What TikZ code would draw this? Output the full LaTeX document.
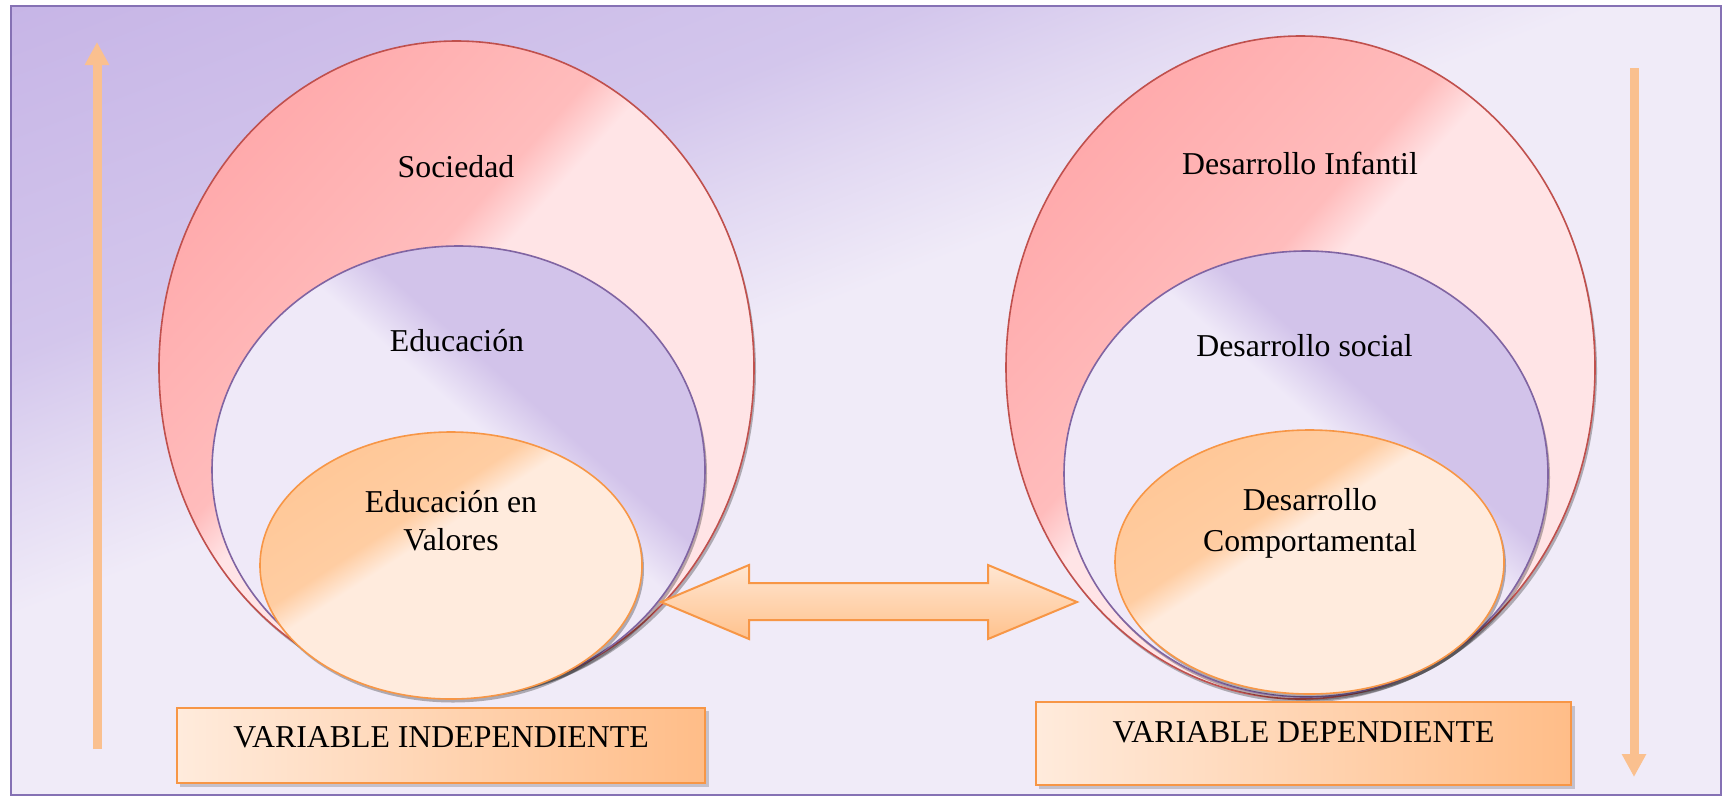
\documentclass[tikz,border=0pt]{standalone}
\usepackage{fontspec}
\setmainfont{Liberation Serif}
\usetikzlibrary{shapes.geometric,arrows.meta,calc}

\definecolor{bgD}{HTML}{C6B4E6}
\definecolor{bgD2}{HTML}{D3C6EC}
\definecolor{bgM}{HTML}{E2D9F2}
\definecolor{bgL}{HTML}{F0EBF8}
\definecolor{pkD}{HTML}{FFA8AA}
\definecolor{pkM}{HTML}{FFBCBC}
\definecolor{pkL}{HTML}{FFE4E6}
\definecolor{lvL}{HTML}{EFE9F8}
\definecolor{lvD}{HTML}{D2C3EA}
\definecolor{orD}{HTML}{FFC593}
\definecolor{orM}{HTML}{FFCDA2}
\definecolor{orL}{HTML}{FFEBDD}
\definecolor{bxL}{HTML}{FFEBDC}
\definecolor{bxD}{HTML}{FFBD88}
\definecolor{arrC}{HTML}{FAC08F}
\definecolor{daT}{HTML}{FFE6D2}
\definecolor{daB}{HTML}{FFC28D}
\definecolor{strRed}{HTML}{C0504D}
\definecolor{strPur}{HTML}{8064A2}
\definecolor{strOr}{HTML}{F79646}
\definecolor{frameC}{HTML}{8571B4}

\pgfdeclarehorizontalshading{bgshade}{100bp}{color(0bp)=(bgD); color(29.7bp)=(bgD); color(39.85bp)=(bgD2); color(43.3bp)=(bgM); color(46.95bp)=(bgL); color(100bp)=(bgL)}
\pgfdeclarehorizontalshading{pinkshade}{100bp}{color(0bp)=(pkD); color(25bp)=(pkD); color(42.9bp)=(pkM); color(46.6bp)=(pkL); color(100bp)=(pkL)}
\pgfdeclarehorizontalshading{midshade}{100bp}{color(0bp)=(lvL); color(54.5bp)=(lvL); color(60bp)=(lvD); color(100bp)=(lvD)}
\pgfdeclarehorizontalshading{orshade}{100bp}{color(0bp)=(orD); color(25bp)=(orD); color(41.9bp)=(orM); color(45.6bp)=(orL); color(100bp)=(orL)}

\tikzset{
  lbl/.style={font=\fontsize{15.9pt}{19pt}\selectfont, align=center, inner sep=0pt, text=black},
  ellbase/.style={ellipse, inner sep=0pt, outer sep=0pt, line width=0.8pt},
  outerell/.style={ellbase, draw=strRed, path picture={\shade[shading=pinkshade, shading angle=-42] ([shift={(-335,-335)}]path picture bounding box.center) rectangle ([shift={(335,335)}]path picture bounding box.center);}},
  midell/.style={ellbase, draw=strPur, path picture={\shade[shading=midshade, shading angle=48.6] ([shift={(-250,-250)}]path picture bounding box.center) rectangle ([shift={(250,250)}]path picture bounding box.center);}},
  innerell/.style={ellbase, draw=strOr, path picture={\shade[shading=orshade, shading angle=-57] ([shift={(-200,-200)}]path picture bounding box.center) rectangle ([shift={(200,200)}]path picture bounding box.center);}},
  shadowfill/.style={fill=black, opacity=0.28},
  vbox/.style={rectangle, inner sep=0pt, draw=strOr, line width=1pt, left color=bxL, right color=bxD},
  varrow/.style={draw=arrC, line width=4.5pt, -{Triangle[width=11.5pt,length=11.5pt]}},
  dblarrow/.style={draw=strOr, line width=1pt, top color=daT, bottom color=daB, line join=miter},
  frameline/.style={draw=frameC, line width=1pt},
}

\begin{document}
\begin{tikzpicture}[x=0.5pt,y=-0.5pt]
\useasboundingbox (0,0) rectangle (1724,799);
\fill[white] (0,0) rectangle (1724,799);

% background panel
\begin{scope}
  \clip (11,6) rectangle (1721,795);
  \shade[shading=bgshade, shading angle=-69] (4,-462) rectangle (1728,1262);
\end{scope}
\draw[frameline] (11,6) rectangle (1721,795);

% vertical arrows
\coordinate (lb) at (97,749);
\coordinate (lt) at (97,42);
\coordinate (rt) at (1634,68);
\coordinate (rb) at (1634,777);
\draw[varrow] (lb) -- (lt);
\draw[varrow] (rt) -- (rb);

% left group
\fill[shadowfill] (458.5,371.5) ellipse [x radius=148.75pt, y radius=163.5pt];
\node[outerell, minimum width=297.5pt, minimum height=327pt] (socE) at (456.5,368) {};
\fill[shadowfill] (460.5,473.5) ellipse [x radius=123.25pt, y radius=112pt];
\node[midell, minimum width=246.5pt, minimum height=224pt] (eduE) at (458.5,470) {};
\fill[shadowfill] (453,569) ellipse [x radius=95.5pt, y radius=66.75pt];
\node[innerell, minimum width=191pt, minimum height=133.5pt] (valE) at (451,565.5) {};

% right group
\fill[shadowfill] (1302.5,371) ellipse [x radius=147.25pt, y radius=165.75pt];
\node[outerell, minimum width=294.5pt, minimum height=331.5pt] (desE) at (1300.5,367.5) {};
\fill[shadowfill] (1308,477.5) ellipse [x radius=121pt, y radius=111.5pt];
\node[midell, minimum width=242pt, minimum height=223pt] (socdE) at (1306,474) {};
\fill[shadowfill] (1311.5,565.5) ellipse [x radius=97.25pt, y radius=66pt];
\node[innerell, minimum width=194.5pt, minimum height=132pt] (comE) at (1309.5,562) {};

% labels
\node[lbl] (tSoc) at (456,167) {Sociedad};
\node[lbl] (tEdu) at (457,341) {Educación};
\node[lbl] (tVal) at (451,520.5) {Educación en\\Valores};
\node[lbl] (tDes) at (1300,163) {Desarrollo Infantil};
\node[lbl] (tSocd) at (1304.5,346) {Desarrollo social};
\node[lbl, font=\fontsize{15.9pt}{20.5pt}\selectfont] (tCom) at (1310,523) {Desarrollo\\Comportamental};

% boxes
\fill[shadowfill, opacity=0.18] (180,711) rectangle (709,787);
\node[vbox, minimum width=264pt, minimum height=37.5pt] (boxL) at (441,745) {};
\node[lbl] (tBoxL) at (441,737) {VARIABLE INDEPENDIENTE};
\fill[shadowfill, opacity=0.18] (1039,706) rectangle (1575,789);
\node[vbox, minimum width=267.5pt, minimum height=41.5pt] (boxR) at (1303.5,743.5) {};
\node[lbl] (tBoxR) at (1303.5,732) {VARIABLE DEPENDIENTE};

% double arrow between the two groups
\coordinate (dL) at (661,602);
\coordinate (dR) at (1077,602);
\fill[shadowfill, opacity=0.18, shift={(2pt,-3pt)}]
  (dL) -- ($(dL)+(88,-37)$) -- ($(dL)+(88,-19)$) -- ($(dR)+(-89,-19)$) -- ($(dR)+(-89,-37)$)
  -- (dR) -- ($(dR)+(-89,37)$) -- ($(dR)+(-89,18)$) -- ($(dL)+(88,18)$) -- ($(dL)+(88,37)$) -- cycle;
\path[dblarrow]
  (dL) -- ($(dL)+(88,-37)$) -- ($(dL)+(88,-19)$) -- ($(dR)+(-89,-19)$) -- ($(dR)+(-89,-37)$)
  -- (dR) -- ($(dR)+(-89,37)$) -- ($(dR)+(-89,18)$) -- ($(dL)+(88,18)$) -- ($(dL)+(88,37)$) -- cycle;
\end{tikzpicture}
\end{document}
